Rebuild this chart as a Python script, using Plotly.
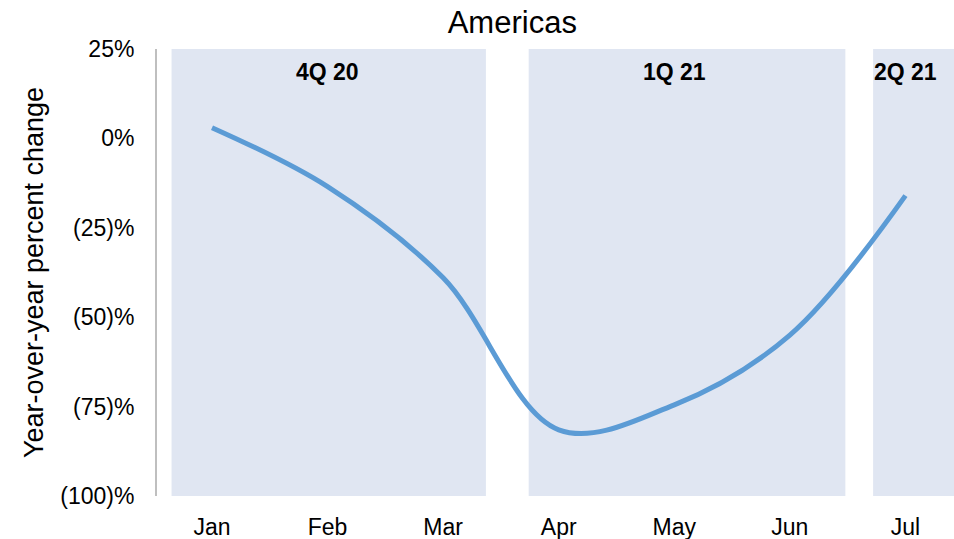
import plotly.graph_objects as go

months = ["Jan", "Feb", "Mar", "Apr", "May", "Jun", "Jul"]
yoy_change = [3.0, -13.5, -39.0, -81.5, -74.5, -55.0, -16.0]

quarter_labels = ["4Q 20", "1Q 21", "2Q 21"]
quarter_label_month = [1, 4, 6]          # month index where the label is centred
quarter_start = [-0.35, 2.74, 5.72]      # shaded span start (month-index units)
quarter_end = [2.37, 5.48, 6.45]         # shaded span end

ytick_vals = [25, 0, -25, -50, -75, -100]
ytick_text = ["25%", "0%", "(25)%", "(50)%", "(75)%", "(100)%"]

FONT = "Liberation Sans, Arial, sans-serif"
x_idx = list(range(len(months)))

fig = go.Figure()
fig.add_trace(go.Scatter(
    x=x_idx, y=yoy_change, mode="lines",
    line=dict(color="#5b9bd5", width=5, shape="spline", smoothing=1.0),
    hoverinfo="skip", showlegend=False,
))

for s, e in zip(quarter_start, quarter_end):
    fig.add_shape(type="rect", xref="x", yref="y", x0=s, x1=e, y0=-100, y1=25,
                  fillcolor="#e0e6f2", line=dict(width=0), layer="below")

for lab, m in zip(quarter_labels, quarter_label_month):
    fig.add_annotation(x=m, y=18.5, xref="x", yref="y", text="<b>%s</b>" % lab,
                       showarrow=False, font=dict(family=FONT, size=23, color="#000000"))

fig.update_layout(
    width=954, height=539,
    margin=dict(l=157, r=0, t=49, b=43),
    paper_bgcolor="white", plot_bgcolor="white",
    title=dict(text="Americas", x=0.537, xref="container", xanchor="center",
               y=1 - 22 / 539, yref="container", yanchor="middle",
               font=dict(family=FONT, size=31, color="#000000")),
    xaxis=dict(range=[-0.476, 6.42], tickvals=x_idx, ticktext=months,
               showgrid=False, zeroline=False, showline=False, ticks="",
               ticklabelstandoff=15,
               tickfont=dict(family=FONT, size=23, color="#000000")),
    yaxis=dict(range=[-100, 25], tickvals=ytick_vals, ticktext=ytick_text,
               showgrid=False, zeroline=False, showline=True, linecolor="#bfbfbf",
               linewidth=2, ticks="", ticklabelstandoff=16,
               tickfont=dict(family=FONT, size=23, color="#000000"),
               title=dict(text="Year-over-year percent change", standoff=9,
                          font=dict(family=FONT, size=27, color="#000000"))),
)

fig.write_html("out.html")
